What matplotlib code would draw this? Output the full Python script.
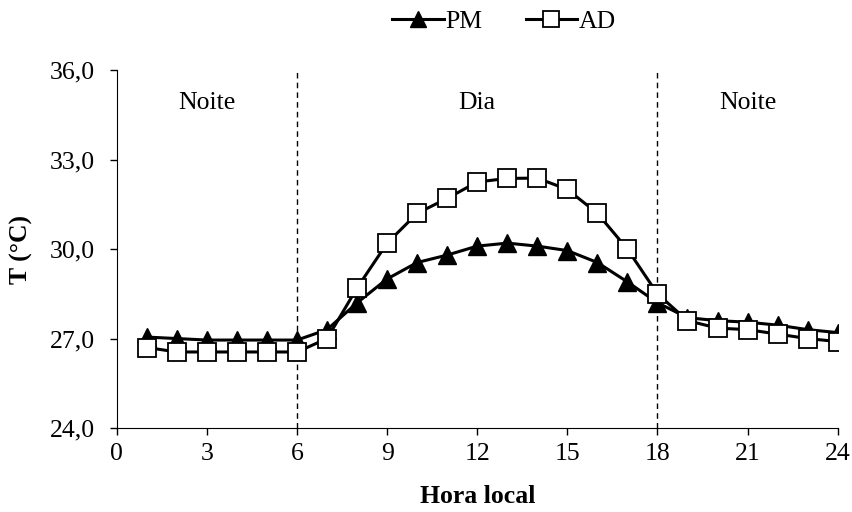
import numpy as np
import matplotlib
matplotlib.use("Agg")
import matplotlib.pyplot as plt
from matplotlib.ticker import FuncFormatter

plt.rcParams["font.family"] = ["Liberation Serif", "DejaVu Serif"]

horas = list(range(1, 25))
pm = [27.05, 27.0, 26.95, 26.95, 26.95, 26.95, 27.3, 28.2, 29.0, 29.55, 29.8, 30.1,
      30.2, 30.1, 29.95, 29.55, 28.9, 28.2, 27.7, 27.6, 27.55, 27.45, 27.3, 27.2]
ad = [26.7, 26.55, 26.55, 26.55, 26.55, 26.55, 27.0, 28.7, 30.2, 31.2, 31.7, 32.25,
      32.37, 32.38, 32.0, 31.2, 30.0, 28.5, 27.6, 27.35, 27.3, 27.15, 27.0, 26.9]
periodos = ["Noite", "Dia", "Noite"]
pos_periodos = [3, 12, 21]
limites = [6, 18]
xticks = [0, 3, 6, 9, 12, 15, 18, 21, 24]
yticks = [24, 27, 30, 33, 36]

FS = 18.5

fig = plt.figure(figsize=(8.53, 5.12), dpi=100)
ax = fig.add_axes([0.137, 0.164, 0.845, 0.699])

ax.plot(horas, pm, color="black", lw=2.2, marker="^", ms=13,
        markerfacecolor="black", markeredgecolor="black", label="PM", zorder=3)
ax.plot(horas, ad, color="black", lw=2.2, marker="s", ms=12.5,
        markerfacecolor="white", markeredgecolor="black", markeredgewidth=1.3,
        label="AD", zorder=4)

for x in limites:
    ax.axvline(x, color="black", ls=(0, (4, 3)), lw=1.0, zorder=1)
for txt, x in zip(periodos, pos_periodos):
    ax.text(x, 34.9, txt, ha="center", va="center", fontsize=FS)

ax.set_xlim(0, 24)
ax.set_ylim(24, 36)
ax.set_xticks(xticks)
ax.set_yticks(yticks)
ax.yaxis.set_major_formatter(FuncFormatter(lambda v, p: f"{v:.1f}".replace(".", ",")))
ax.tick_params(direction="out", labelsize=FS, length=5, width=1)
ax.tick_params(axis="y", pad=11)
ax.tick_params(axis="x", pad=6)
ax.spines["top"].set_visible(False)
ax.spines["right"].set_visible(False)
ax.set_xlabel("Hora local", fontsize=FS, fontweight="bold")
ax.set_ylabel("T (°C)", fontsize=FS, fontweight="bold")
ax.xaxis.set_label_coords(0.5, -0.159)
ax.yaxis.set_label_coords(-0.1165, 0.5)

ax.legend(loc="center", bbox_to_anchor=(0.537, 1.135), ncol=2, frameon=False,
          fontsize=FS, handlelength=2.0, columnspacing=1.7, handletextpad=0.05,
          markerscale=0.9)

fig.savefig("out.png", dpi=100)
